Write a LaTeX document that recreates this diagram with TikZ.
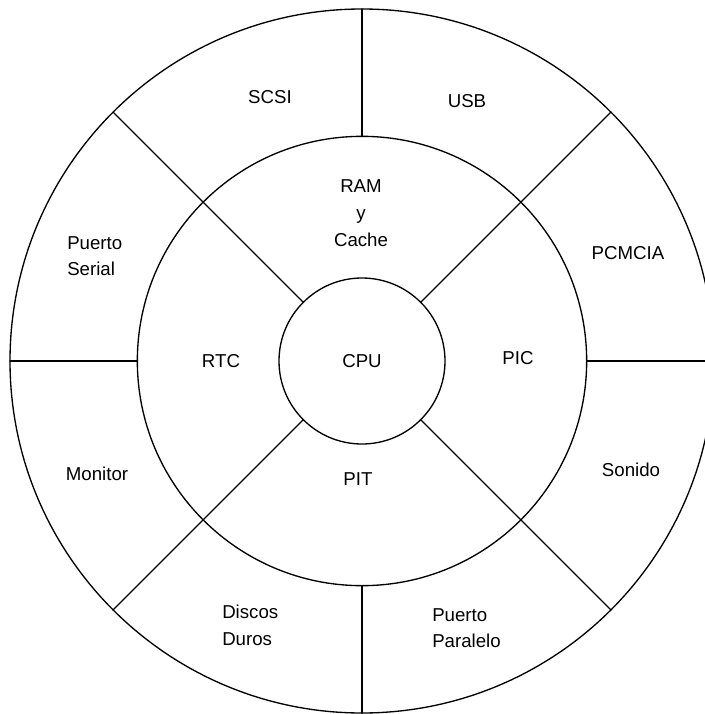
\documentclass[tikz,border=0pt]{standalone}
\usepackage{fontspec}
\setmainfont{Liberation Sans}

\begin{document}
\begin{tikzpicture}[line cap=round,line join=round,x=0.75pt,y=-0.75pt,
  ring/.style={circle,draw=black,line width=1pt,inner sep=0pt,outer sep=0pt},
  lbl/.style={font=\fontsize{14}{20}\selectfont,inner sep=0pt}]
\useasboundingbox (0,0) rectangle (705,714);
\coordinate (c) at (362,361);
\node[ring,minimum size=528pt] (outer) at (c) {};
\node[ring,minimum size=337pt] (mid) at (c) {};
\node[ring,lbl,minimum size=124.5pt] (cpu) at (c) {CPU};
\foreach \a in {45,135,225,315}
  \draw[line width=1pt] (cpu.\a) -- (outer.\a);
\foreach \a in {0,90,180,270}
  \draw[line width=1pt] (mid.\a) -- (outer.\a);
% anillo exterior
\node[lbl] (scsi) at (270,97) {SCSI};
\node[lbl] (usb) at (467,101) {USB};
\node[lbl] (pcmcia) at (628,253) {PCMCIA};
\node[lbl] (sonido) at (631,470) {Sonido};
\node[lbl,anchor=west,align=left] (paralelo) at (432,628) {Puerto\\Paralelo};
\node[lbl,anchor=west,align=left] (discos) at (222,625) {Discos\\Duros};
\node[lbl] (monitor) at (97,474) {Monitor};
\node[lbl,anchor=west,align=left] (serial) at (67,256) {Puerto\\Serial};
% anillo interior
\node[lbl,align=center] (ram) at (361,213) {RAM\\y\\Cache};
\node[lbl] (pic) at (518,358) {PIC};
\node[lbl] (pit) at (358,479) {PIT};
\node[lbl] (rtc) at (221,361) {RTC};
\end{tikzpicture}
\end{document}
